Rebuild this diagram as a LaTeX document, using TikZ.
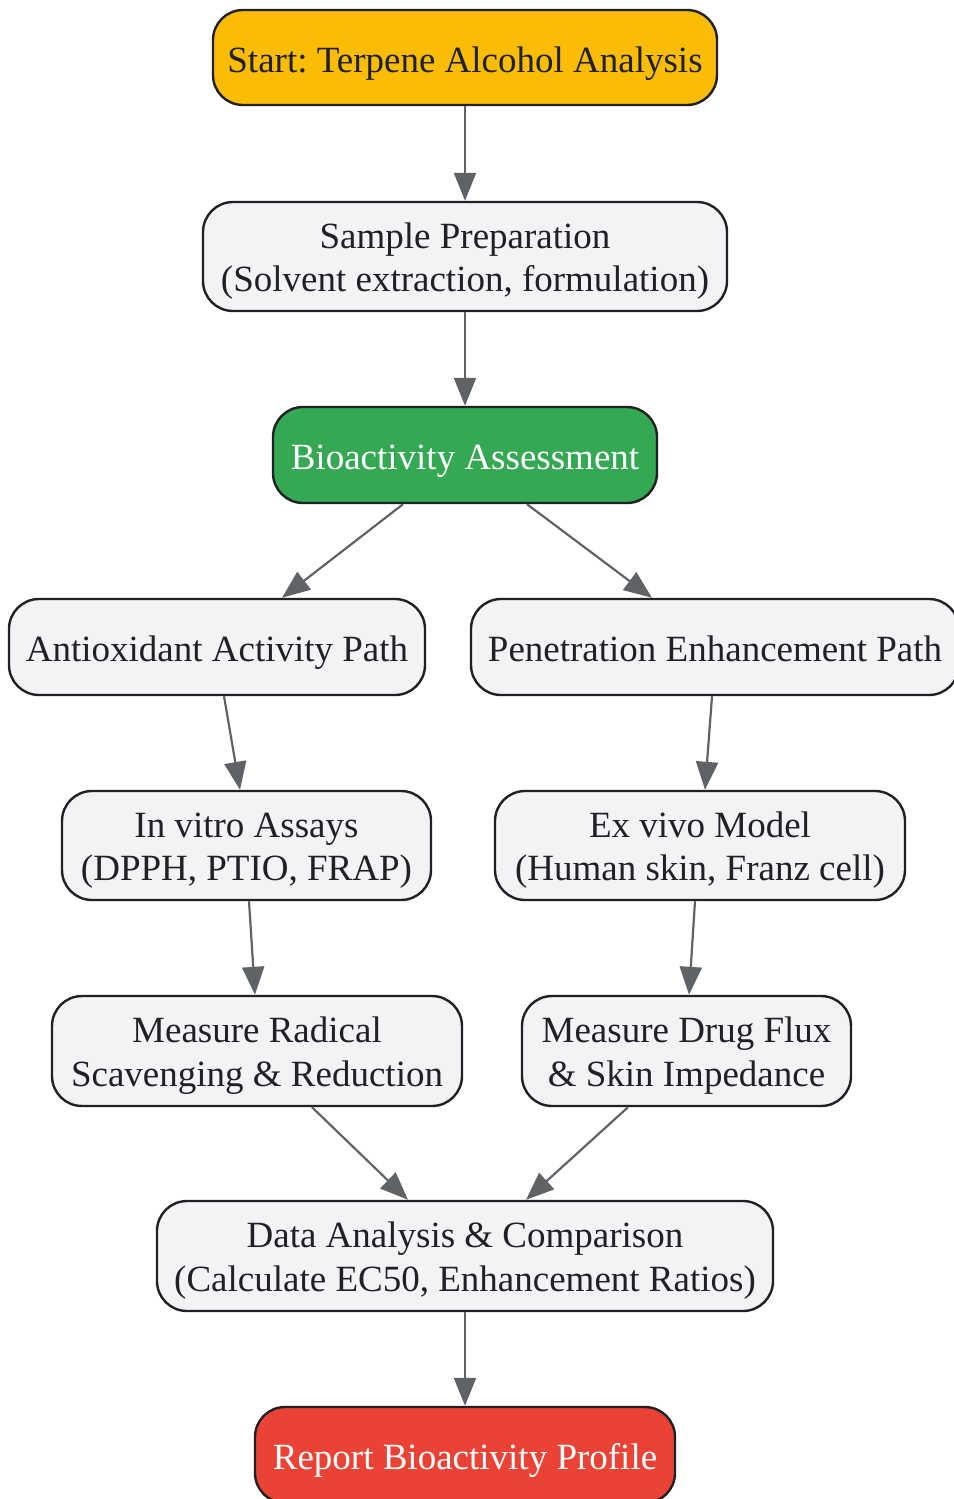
\documentclass[tikz,border=0pt]{standalone}
\usepackage{fontspec}
\setmainfont{Liberation Serif}
\usepackage{tikz}
\usetikzlibrary{arrows.meta}

\definecolor{startyellow}{HTML}{FBBC05}
\definecolor{biogreen}{HTML}{34A853}
\definecolor{reportred}{HTML}{EA4335}
\definecolor{boxgray}{HTML}{F1F3F4}
\definecolor{textdark}{HTML}{202124}
\definecolor{arrowgray}{HTML}{5F6368}

\tikzset{
  stepbox/.style={draw=textdark, line width=1.2pt, rounded corners=15pt,
    fill=boxgray, text=textdark, align=center, inner sep=0pt,
    font=\fontsize{18.5}{21.7}\selectfont\frenchspacing,
    text height=18.5pt, text depth=4pt},
  twoline/.style={text height=39.3pt, text depth=4pt},
  flow/.style={draw=arrowgray, line width=1.1pt, -{Triangle[length=14pt,width=11pt]}},
}

\begin{document}
\begin{tikzpicture}[x=0.5pt,y=-0.5pt]
      \useasboundingbox (0,0) rectangle (953,1499);

       %draw boxes
      \node[stepbox, fill=startyellow, minimum width=252pt, minimum height=47.5pt]
        (start) at (465,57.5) {Start: Terpene Alcohol Analysis};
      \node[stepbox, twoline, minimum width=262pt, minimum height=54.5pt]
        (prep) at (465,256.5) {Sample Preparation\\(Solvent extraction, formulation)};
      \node[stepbox, fill=biogreen, text=white, minimum width=192pt, minimum height=48pt]
        (bio) at (465,455) {Bioactivity Assessment};
      \node[stepbox, minimum width=208pt, minimum height=48pt]
        (anti) at (217,647) {Antioxidant Activity Path};
      \node[stepbox, minimum width=244pt, minimum height=48pt]
        (pen) at (715,647) {Penetration Enhancement Path};
      \node[stepbox, twoline, minimum width=184.5pt, minimum height=54.5pt]
        (invitro) at (246.5,845.5) {In vitro Assays\\(DPPH, PTIO, FRAP)};
      \node[stepbox, twoline, minimum width=205pt, minimum height=54.5pt]
        (exvivo) at (700,845.5) {Ex vivo Model\\(Human skin, Franz cell)};
      \node[stepbox, twoline, minimum width=205pt, minimum height=55pt]
        (radical) at (257,1051) {Measure Radical\\Scavenging \& Reduction};
      \node[stepbox, twoline, minimum width=164.5pt, minimum height=55pt]
        (flux) at (686.5,1051) {Measure Drug Flux\\\& Skin Impedance};
      \node[stepbox, twoline, minimum width=308pt, minimum height=55pt]
        (data) at (465,1256) {Data Analysis \& Comparison\\(Calculate EC50, Enhancement Ratios)};
      \node[stepbox, fill=reportred, text=white, minimum width=210pt, minimum height=48pt]
        (report) at (465,1455) {Report Bioactivity Profile};

       %draw arrows
      \draw[flow] (start.south) -- (prep.north);
      \draw[flow] (prep.south) -- (bio.north);
      \draw[flow] ([xshift=-31pt]bio.south) -- ([xshift=32.5pt]anti.north);
      \draw[flow] ([xshift=31pt]bio.south) -- ([xshift=-31.5pt]pen.north);
      \draw[flow] ([xshift=3.5pt]anti.south) -- ([xshift=-3.25pt]invitro.north);
      \draw[flow] ([xshift=-1.5pt]pen.south) -- ([xshift=2.5pt]exvivo.north);
      \draw[flow] ([xshift=1.25pt]invitro.south) -- ([xshift=-1pt]radical.north);
      \draw[flow] ([xshift=-2.5pt]exvivo.south) -- ([xshift=1.25pt]flux.north);
      \draw[flow] ([xshift=27.5pt]radical.south) -- ([xshift=-28.5pt]data.north);
      \draw[flow] ([xshift=-29.25pt]flux.south) -- ([xshift=30.5pt]data.north);
      \draw[flow] (data.south) -- (report.north);
\end{tikzpicture}
\end{document}
